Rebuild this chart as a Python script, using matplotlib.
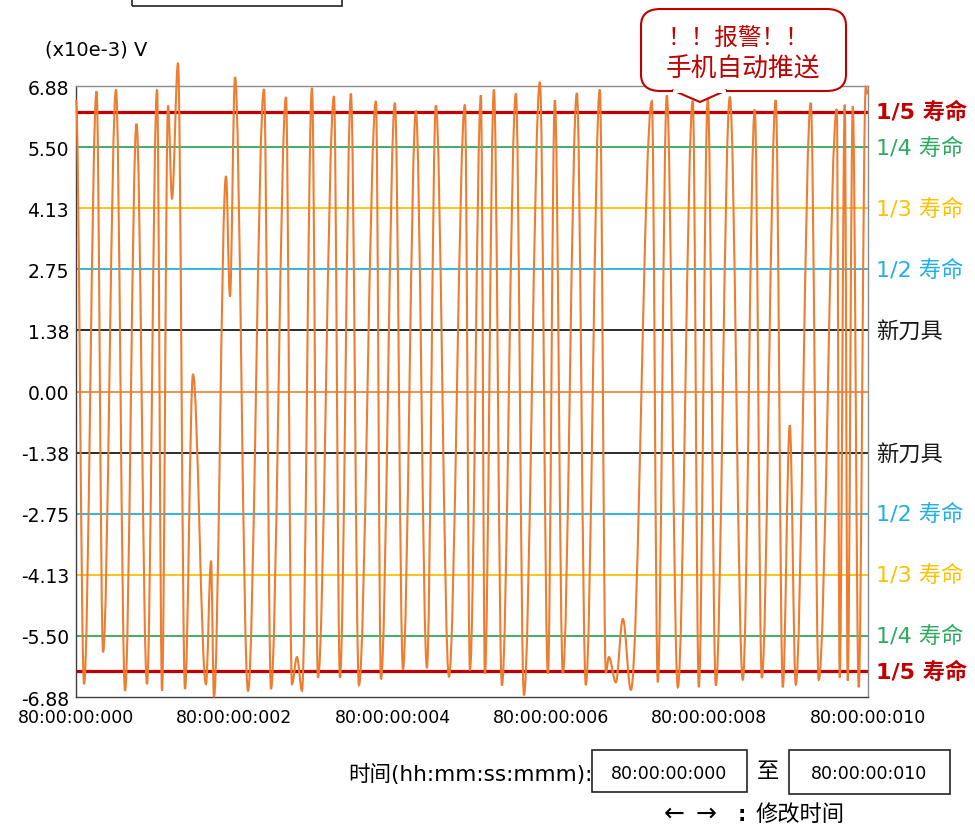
import matplotlib
matplotlib.use("Agg")
import matplotlib.pyplot as plt
from matplotlib.path import Path
from matplotlib.patches import PathPatch, FancyBboxPatch, Rectangle, Polygon

plt.rcParams['font.family'] = ['DejaVu Sans', 'Noto Sans CJK SC']

# extrema of the vibration signal (time in ms, amplitude in 1e-3 V)
t_ms = [0.000, 0.101, 0.259, 0.341, 0.505, 0.619, 0.764, 0.896, 1.023, 1.086,
        1.162, 1.212, 1.288, 1.376, 1.477, 1.641, 1.705, 1.742, 1.894, 1.944,
        2.008, 2.172, 2.374, 2.462, 2.652, 2.727, 2.790, 2.854, 2.980, 3.056,
        3.258, 3.333, 3.472, 3.573, 3.788, 3.851, 4.028, 4.129, 4.293, 4.432,
        4.545, 4.710, 4.912, 4.975, 5.114, 5.164, 5.278, 5.379, 5.556, 5.657,
        5.859, 5.960, 6.048, 6.149, 6.326, 6.439, 6.616, 6.692, 6.730, 6.818,
        6.907, 7.008, 7.273, 7.348, 7.462, 7.601, 7.790, 7.866, 7.980, 8.081,
        8.258, 8.422, 8.573, 8.662, 8.838, 8.927, 9.015, 9.091, 9.280, 9.381,
        9.609, 9.646, 9.710, 9.747, 9.811, 9.886, 9.975, 10.000]
amp = [6.57, -6.59, 6.76, -5.87, 6.80, -6.74, 6.03, -6.59, 6.80, -6.74,
       6.44, 4.35, 7.40, -6.70, 0.38, -6.59, -3.81, -6.88, 4.85, 2.14,
       7.08, -6.74, 6.81, -6.70, 6.63, -6.59, -5.98, -6.74, 6.84, -6.44,
       6.65, -6.44, 6.71, -6.61, 6.54, -6.48, 6.50, -6.26, 6.31, -6.23,
       6.44, -6.42, 6.46, -6.28, 6.67, -6.36, 6.80, -6.62, 6.71, -6.84,
       6.97, -6.36, 6.56, -6.34, 6.72, -6.61, 6.80, -6.34, -5.98, -6.55,
       -5.12, -6.72, 6.54, -6.55, 6.67, -6.66, 6.55, -6.66, 6.61, -6.62,
       6.63, -6.49, 6.35, -6.45, 6.56, -6.66, -0.76, -6.60, 6.50, -6.49,
       6.36, -6.44, 6.46, -6.51, 6.42, -6.66, 6.86, 6.70]

# threshold levels (1e-3 V)
levels = [6.30, 5.50, 4.13, 2.75, 1.38]
level_names = ["1/5 寿命", "1/4 寿命", "1/3 寿命", "1/2 寿命", "新刀具"]
level_colors = ["#C00000", "#2EAA5C", "#FFC000", "#1FB0E6", "#1A1A1A"]

yticks = [6.88, 5.50, 4.13, 2.75, 1.38, 0.00, -1.38, -2.75, -4.13, -5.50, -6.88]
xticks = [0, 2, 4, 6, 8, 10]
xtick_labels = ["80:00:00:000", "80:00:00:002", "80:00:00:004",
                "80:00:00:006", "80:00:00:008", "80:00:00:010"]

SIG = "#ED7D31"
W, H = 975, 829

fig = plt.figure(figsize=(9.75, 8.29), dpi=100)
ax = fig.add_axes([0.078, 0.158, 0.812, 0.737])
ax.set_xlim(0, 10)
ax.set_ylim(-6.88, 6.88)

# threshold lines, mirrored above and below zero
for lv, name, col in zip(levels, level_names, level_colors):
    top = lv == levels[0]
    for sgn in (1, -1):
        ax.axhline(sgn * lv, color=col, lw=2.3 if top else 1.3, zorder=2)
        ax.text(1.011, sgn * lv, name, transform=ax.get_yaxis_transform(),
                color=col, fontsize=16, fontweight="bold" if top else "normal",
                va="center", ha="left")
ax.axhline(0, color=SIG, lw=1.2, zorder=2)

# smooth signal: cubic segments with flat tangents at each extremum
verts = [(t_ms[0], amp[0])]
codes = [Path.MOVETO]
for i in range(1, len(t_ms)):
    t0, t1 = t_ms[i - 1], t_ms[i]
    dt = t1 - t0
    verts += [(t0 + 0.36 * dt, amp[i - 1]), (t1 - 0.36 * dt, amp[i]), (t1, amp[i])]
    codes += [Path.CURVE4] * 3
ax.add_patch(PathPatch(Path(verts, codes), fill=False, edgecolor=SIG, lw=1.5,
                       zorder=3, clip_on=False))

ax.set_xticks(xticks)
ax.set_xticklabels(xtick_labels, fontsize=12.5)
ax.set_yticks(yticks)
ax.set_yticklabels(["%.2f" % v for v in yticks], fontsize=13.5)
ax.tick_params(length=0, pad=5)
ax.tick_params(axis="x", pad=8)
for s in ax.spines.values():
    s.set_color("#8C8C8C")
    s.set_linewidth(1.0)
ax.spines["left"].set_color("#404040")
ax.spines["bottom"].set_color("#404040")

fig.text(45 / W, 1 - 50 / H, "(x10e-3) V", fontsize=14, va="center")

# input box at the very top
fig.patches.append(Rectangle((132 / W, 1 - 7 / H), 210 / W, 0.02,
                             transform=fig.transFigure, fill=False,
                             edgecolor="#222222", lw=1.2))

# alarm callout
box = FancyBboxPatch((641 / W, 1 - 92 / H), 205 / W, 82 / H,
                     boxstyle="round,pad=0,rounding_size=0.02",
                     transform=fig.transFigure, facecolor="white",
                     edgecolor="#C00000", lw=1.5, zorder=10)
fig.patches.append(box)
tip = Polygon([(672 / W, 1 - 91 / H), (700 / W, 1 - 103 / H), (727 / W, 1 - 91 / H)],
              closed=False, transform=fig.transFigure, facecolor="white",
              edgecolor="#C00000", lw=1.5, zorder=11)
fig.patches.append(tip)
fig.patches.append(Rectangle((673 / W, 1 - 93.5 / H), 53 / W, 3 / H,
                             transform=fig.transFigure, facecolor="white",
                             edgecolor="none", zorder=12))
fig.text(738 / W, 1 - 38 / H, "！！报警！！", color="#C00000", fontsize=17,
         ha="center", va="center", zorder=13)
fig.text(743 / W, 1 - 70 / H, "手机自动推送", color="#C00000", fontsize=18.5,
         ha="center", va="center", zorder=13)

# time range controls
fig.text(348 / W, 1 - 775 / H, "时间(hh:mm:ss:mmm):", fontsize=15.5, va="center")
fig.patches.append(Rectangle((592 / W, 1 - 793 / H), 155 / W, 42 / H,
                             transform=fig.transFigure, fill=False,
                             edgecolor="#222222", lw=1.2))
fig.text(669 / W, 1 - 774 / H, "80:00:00:000", fontsize=12.5, ha="center", va="center")
fig.text(768 / W, 1 - 772 / H, "至", fontsize=16, ha="center", va="center")
fig.patches.append(Rectangle((789 / W, 1 - 795 / H), 161 / W, 44 / H,
                             transform=fig.transFigure, fill=False,
                             edgecolor="#222222", lw=1.2))
fig.text(869 / W, 1 - 774 / H, "80:00:00:010", fontsize=12.5, ha="center", va="center")
fig.text(664 / W, 1 - 814 / H, "←", fontsize=18, va="center")
fig.text(696 / W, 1 - 814 / H, "→", fontsize=18, va="center")
fig.text(738 / W, 1 - 815 / H, ":", fontsize=15, fontweight="bold", va="center")
fig.text(756 / W, 1 - 815 / H, "修改时间", fontsize=16, va="center")

fig.savefig("out.png", dpi=100)
